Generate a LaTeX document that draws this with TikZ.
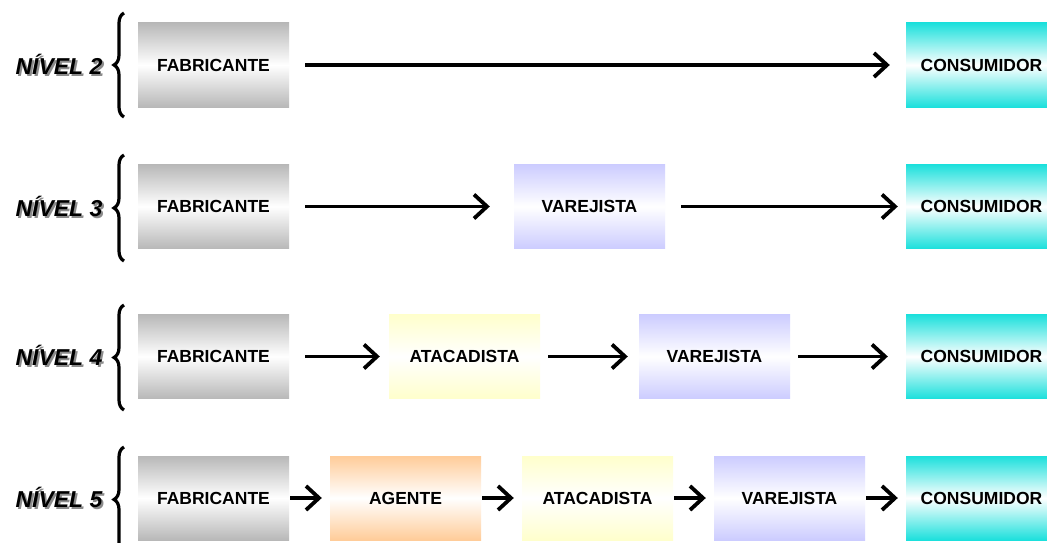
\documentclass[tikz,border=0pt]{standalone}
\usepackage{fontspec}
\setmainfont{Liberation Sans}
\usetikzlibrary{arrows.meta,decorations.pathreplacing}
\definecolor{fabC}{RGB}{184,184,184}
\definecolor{ageC}{RGB}{255,204,153}
\definecolor{ataC}{RGB}{255,255,204}
\definecolor{varC}{RGB}{204,204,255}
\definecolor{conC}{RGB}{28,224,220}
\tikzset{
  box/.style={minimum width=151pt, minimum height=84pt, inner sep=0pt,
    font=\fontsize{17.5}{20}\selectfont\bfseries, top color=#1, bottom color=#1, middle color=white},
  arr/.style={line width=3.8pt, -{Straight Barb[length=13pt,width=24pt,line width=3.8pt]}},
  lvl/.style={font=\fontsize{23}{27}\selectfont\bfseries\itshape},
  lvlsh/.style={lvl, text=black!45},
  br/.style={line width=3.2pt, decorate, decoration={brace, amplitude=10pt}}
}
\begin{document}
\begin{tikzpicture}[x=1pt,y=-1pt]
\clip (0,0) rectangle (1047,543);
\fill[white] (0,0) rectangle (1047,543);
% labels
\foreach \n/\yy in {2/64,3/206,4/355,5/497}{
  \node[lvlsh] (sh\n) at (61,\yy+2) {NÍVEL \n};
  \node[lvl] (lv\n) at (59,\yy) {NÍVEL \n};
}
% braces
\coordinate (b1a) at (124,117); \coordinate (b1b) at (124,13);
\coordinate (b2a) at (124,261); \coordinate (b2b) at (124,155);
\coordinate (b3a) at (124,410); \coordinate (b3b) at (124,305);
\coordinate (b4a) at (124,552); \coordinate (b4b) at (124,447);
\draw[br] (b1a) -- (b1b);
\draw[br] (b2a) -- (b2b);
\draw[br] (b3a) -- (b3b);
\draw[br] (b4a) -- (b4b);
% row 1
\node[box=fabC] (f1) at (213.5,65) {FABRICANTE};
\node[box=conC] (c1) at (981.5,65) {CONSUMIDOR};
\draw[arr, shorten <=16pt, shorten >=16pt] (f1) -- (c1);
% row 2
\node[box=fabC] (f2) at (213.5,206.5) {FABRICANTE};
\node[box=varC] (v2) at (589.5,206.5) {VAREJISTA};
\node[box=conC] (c2) at (981.5,206.5) {CONSUMIDOR};
\draw[arr, shorten <=16pt, shorten >=24pt] (f2) -- (v2);
\draw[arr, shorten <=16pt, shorten >=8pt] (v2) -- (c2);
% row 3
\node[box=fabC] (f3) at (213.5,356.5) {FABRICANTE};
\node[box=ataC] (a3) at (464.5,356.5) {ATACADISTA};
\node[box=varC] (v3) at (714.5,356.5) {VAREJISTA};
\node[box=conC] (c3) at (981.5,356.5) {CONSUMIDOR};
\draw[arr, shorten <=16pt, shorten >=9pt] (f3) -- (a3);
\draw[arr, shorten <=8pt, shorten >=11pt] (a3) -- (v3);
\draw[arr, shorten <=8pt, shorten >=18pt] (v3) -- (c3);
% row 4
\node[box=fabC] (f4) at (213.5,498) {FABRICANTE};
\node[box=ageC] (g4) at (405.5,498) {AGENTE};
\node[box=ataC] (a4) at (597.5,498) {ATACADISTA};
\node[box=varC] (v4) at (789.5,498) {VAREJISTA};
\node[box=conC] (c4) at (981.5,498) {CONSUMIDOR};
\draw[arr, shorten <=1pt, shorten >=8pt] (f4) -- (g4);
\draw[arr, shorten <=1pt, shorten >=8pt] (g4) -- (a4);
\draw[arr, shorten <=1pt, shorten >=8pt] (a4) -- (v4);
\draw[arr, shorten <=1pt, shorten >=8pt] (v4) -- (c4);
\end{tikzpicture}
\end{document}
